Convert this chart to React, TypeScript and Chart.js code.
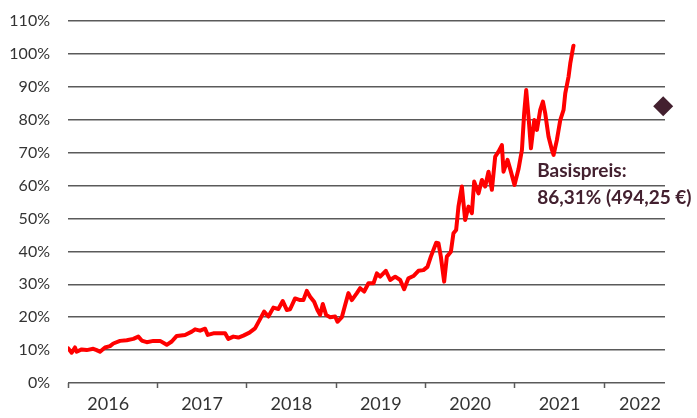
import React, { useEffect, useRef } from "react";
import { Chart, registerables } from "chart.js";

Chart.register(...registerables);

// ---- Data ----
const yearTicks = [2016, 2017, 2018, 2019, 2020, 2021, 2022];
const yearLabelPositions = [2016.45, 2017.5, 2018.5, 2019.5, 2020.5, 2021.5, 2022.4];
const yTicks = [0, 10, 20, 30, 40, 50, 60, 70, 80, 90, 100, 110];

// decimal year of each observation
const priceDates = [
  2016.003, 2016.041, 2016.078, 2016.097, 2016.153, 2016.209, 2016.283, 2016.321, 2016.358, 2016.414,
  2016.47, 2016.507, 2016.582, 2016.657, 2016.731, 2016.787, 2016.825, 2016.881, 2016.955, 2017.03,
  2017.105, 2017.161, 2017.217, 2017.31, 2017.385, 2017.422, 2017.478, 2017.534, 2017.564, 2017.627,
  2017.702, 2017.758, 2017.794, 2017.85, 2017.906, 2017.962, 2018.03, 2018.093, 2018.149, 2018.194,
  2018.242, 2018.298, 2018.354, 2018.403, 2018.448, 2018.485, 2018.541, 2018.597, 2018.634, 2018.672,
  2018.709, 2018.754, 2018.791, 2018.821, 2018.851, 2018.888, 2018.933, 2018.989, 2019.015, 2019.064,
  2019.101, 2019.138, 2019.176, 2019.232, 2019.269, 2019.314, 2019.362, 2019.418, 2019.456, 2019.493,
  2019.556, 2019.605, 2019.661, 2019.717, 2019.761, 2019.809, 2019.865, 2019.921, 2019.977, 2020.022,
  2020.06, 2020.12, 2020.145, 2020.172, 2020.209, 2020.239, 2020.284, 2020.313, 2020.343, 2020.369,
  2020.407, 2020.444, 2020.481, 2020.519, 2020.545, 2020.593, 2020.631, 2020.668, 2020.705, 2020.743,
  2020.78, 2020.817, 2020.855, 2020.873, 2020.918, 2020.948, 2020.996, 2021.041, 2021.079, 2021.104,
  2021.127, 2021.153, 2021.18, 2021.217, 2021.247, 2021.284, 2021.314, 2021.34, 2021.377, 2021.415,
  2021.433, 2021.47, 2021.508, 2021.545, 2021.564, 2021.601, 2021.62, 2021.65, 2021.656,
];

// performance in %
const priceValues = [
  10.5, 9.2, 10.8, 9.5, 10.2, 10.0, 10.4, 10.0, 9.5, 10.8,
  11.2, 12.0, 12.8, 13.0, 13.4, 14.1, 12.9, 12.4, 12.8, 12.8,
  11.6, 12.6, 14.3, 14.6, 15.6, 16.3, 15.9, 16.5, 14.6, 15.1,
  15.1, 15.1, 13.4, 14.1, 13.8, 14.4, 15.3, 16.6, 19.4, 21.7,
  20.2, 22.9, 22.5, 24.9, 22.2, 22.4, 25.7, 25.2, 25.2, 28.0,
  26.2, 24.7, 22.2, 20.7, 24.0, 20.7, 20.0, 20.2, 18.6, 20.0,
  23.7, 27.3, 25.2, 27.3, 28.8, 27.8, 30.3, 30.3, 33.3, 32.3,
  34.1, 31.3, 32.3, 31.3, 28.5, 31.8, 32.5, 34.1, 34.3, 35.3,
  38.4, 42.6, 42.5, 38.4, 30.8, 38.4, 39.9, 45.5, 46.5, 53.6,
  59.7, 49.5, 53.6, 51.6, 61.2, 57.6, 61.7, 59.7, 64.2, 58.7,
  68.8, 70.3, 72.3, 64.2, 67.8, 65.0, 60.2, 65.0, 70.8, 81.9,
  89.0, 80.9, 71.3, 79.9, 76.9, 83.0, 85.5, 81.9, 74.8, 70.8,
  69.3, 73.8, 79.9, 83.0, 88.0, 93.1, 97.1, 101.7, 102.5,
];

const strikeDate = 2022.66;
const strikeValue = 84.1;
const strikeLabelLines = ["Basispreis:", "86,31% (494,25 €)"];
const strikeLabelDate = 2021.25;
const strikeLabelValues = [64.4, 56.3];

const xMin = 2016;
const xMax = 2022.68;

const FONT = "Lato, 'Open Sans', sans-serif";
const TEXT_COLOR = "#333333";
const GRID_COLOR = "#5a5a5a";
const MAROON = "#43202f";

const strikeTextPlugin = {
  id: "strikeText",
  afterDatasetsDraw(chart: any) {
    const { ctx, scales } = chart;
    const x = scales.x;
    const y = scales.y;
    ctx.save();
    ctx.font = `bold 19px ${FONT}`;
    ctx.fillStyle = MAROON;
    ctx.textAlign = "left";
    ctx.textBaseline = "middle";
    strikeLabelLines.forEach((line, i) => {
      ctx.fillText(line, x.getPixelForValue(strikeLabelDate), y.getPixelForValue(strikeLabelValues[i]));
    });
    ctx.restore();
  },
};

export default function App() {
  const canvasRef = useRef<HTMLCanvasElement | null>(null);

  useEffect(() => {
    const canvas = canvasRef.current;
    if (!canvas) return;
    const chart = new Chart(canvas, {
      type: "line",
      data: {
        datasets: [
          {
            label: "Performance",
            data: priceDates.map((d, i) => ({ x: d, y: priceValues[i] })),
            borderColor: "#ff0000",
            borderWidth: 4,
            pointRadius: 0,
            tension: 0,
            borderJoinStyle: "round",
            borderCapStyle: "round",
            fill: false,
          },
          {
            label: "Basispreis",
            data: [{ x: strikeDate, y: strikeValue }],
            showLine: false,
            pointStyle: "rectRot",
            pointRadius: 10,
            pointBackgroundColor: MAROON,
            pointBorderColor: MAROON,
            pointBorderWidth: 0,
            clip: false as any,
          },
        ],
      },
      options: {
        animation: false,
        responsive: false,
        devicePixelRatio: 1,
        layout: { padding: { top: 21, right: 32, left: 0, bottom: 0 } },
        plugins: {
          legend: { display: false },
          tooltip: { enabled: false },
        },
        scales: {
          x: {
            type: "linear",
            min: xMin,
            max: xMax,
            afterBuildTicks: (scale: any) => {
              const vals = [...yearTicks, ...yearLabelPositions].sort((a, b) => a - b);
              scale.ticks = vals.map((v) => ({ value: v }));
            },
            afterFit: (scale: any) => {
              scale.height = 35;
              scale.paddingLeft = 0;
              scale.paddingRight = 0;
            },
            ticks: {
              autoSkip: false,
              maxRotation: 0,
              minRotation: 0,
              padding: 5,
              color: TEXT_COLOR,
              font: { family: FONT, size: 18 },
              callback: (v: any) => (Number.isInteger(v) ? "" : String(Math.floor(v))),
            },
            grid: {
              drawOnChartArea: false,
              drawTicks: true,
              tickLength: 5,
              tickWidth: 1.5,
              tickColor: (ctx: any) =>
                ctx.tick && Number.isInteger(ctx.tick.value) ? GRID_COLOR : "rgba(0,0,0,0)",
            },
            border: { display: false },
          },
          y: {
            type: "linear",
            min: 0,
            max: 110,
            afterBuildTicks: (scale: any) => {
              scale.ticks = yTicks.map((v) => ({ value: v }));
            },
            afterFit: (scale: any) => {
              scale.width = 68;
              scale.paddingTop = 0;
              scale.paddingBottom = 0;
            },
            ticks: {
              padding: 18,
              color: TEXT_COLOR,
              font: { family: FONT, size: 16 },
              callback: (v: any) => `${v}%`,
            },
            grid: {
              color: GRID_COLOR,
              lineWidth: 1.5,
              drawTicks: false,
            },
            border: { display: false },
          },
        },
      },
      plugins: [strikeTextPlugin],
    });
    return () => chart.destroy();
  }, []);

  return (
    <div style={{ position: "absolute", left: 0, top: 0, width: 697, height: 418, background: "#fff" }}>
      <canvas ref={canvasRef} width={697} height={418} style={{ display: "block", width: 697, height: 418 }} />
    </div>
  );
}
